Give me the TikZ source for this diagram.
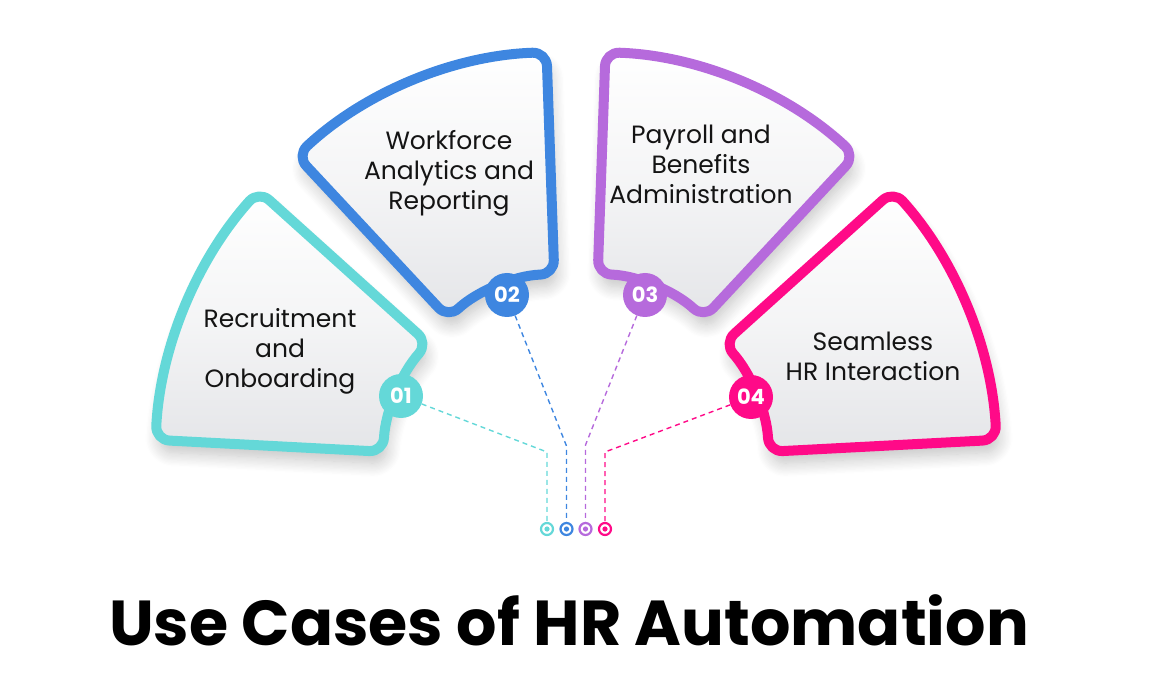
\documentclass[tikz,border=0pt]{standalone}
\usepackage{fontspec}
\setmainfont{Poppins}
\usetikzlibrary{shadows.blur}

\definecolor{cteal}{HTML}{64D8D8}
\definecolor{cblue}{HTML}{3E86E0}
\definecolor{cpurple}{HTML}{B66ADC}
\definecolor{cpink}{HTML}{FF0A88}
\definecolor{cshade}{HTML}{E4E5E8}

\tikzset{
  segpath/.style={line width=10pt, rounded corners=14pt, line join=round,
    top color=white, bottom color=cshade, middle color=white!60!cshade,
    blur shadow={shadow xshift=3pt, shadow yshift=-12pt, shadow blur radius=14pt,
      shadow opacity=24, shadow blur steps=12}},
  segtext/.style={align=center, text=black!92, font=\fontsize{25}{30}\selectfont},
  badge/.style={circle, minimum size=44pt, inner sep=0pt, text=white,
    font=\fontsize{21}{21}\selectfont\bfseries},
  endring/.style={circle, draw=#1, line width=2.2pt, minimum size=12pt, inner sep=0pt, fill=white},
  link/.style={dashed, dash pattern=on 5pt off 4pt, line width=1.4pt}
}

\begin{document}
\begin{tikzpicture}[x=1pt, y=1pt]
    % --- 画布大小 ---
    \useasboundingbox (0,0) rectangle (1153,686);

    % --- 四个扇形 ---
    % 圆心x/圆心y/起始角/终止角/内半径/外半径/颜色
    % 路径从起始边的中点开始, 让每个角都能被圆滑
    \foreach \cx/\cy/\sa/\ea/\ri/\ro/\col in {
        559/225/138/177/176/404/cteal,
        560/248/92/133/164/386/cblue,
        592/248/47/88/164/386/cpurple,
        593/225/3/42/176/404/cpink} {
      \draw[segpath, draw=\col]
        ([shift={(\cx,\cy)}]\sa:{(\ri+\ro)/2}) -- ([shift={(\cx,\cy)}]\sa:\ro)
        arc[start angle=\sa, end angle=\ea, radius=\ro]
        -- ([shift={(\cx,\cy)}]\ea:\ri)
        arc[start angle=\ea, end angle=\sa, radius=\ri] -- cycle;
    }

    % --- 扇形文字 ---
    \node[segtext] (t1) at (280,335) {Recruitment\\and\\Onboarding};
    \node[segtext] (t2) at (449,513) {Workforce\\Analytics and\\Reporting};
    \node[segtext] (t3) at (701,522) {Payroll and\\Benefits\\Administration};
    \node[segtext] (t4) at (873,330) {Seamless\\HR Interaction};

    % --- 编号圆 ---
    \node[badge, fill=cteal]   (b1) at (401,290) {01};
    \node[badge, fill=cblue]   (b2) at (507,391) {02};
    \node[badge, fill=cpurple] (b3) at (645,391) {03};
    \node[badge, fill=cpink]   (b4) at (751,289) {04};

    % --- 底部小圆环 ---
    \node[endring=cteal]   (e1) at (547,157) {};
    \node[endring=cblue]   (e2) at (566.5,157) {};
    \node[endring=cpurple] (e3) at (585.5,157) {};
    \node[endring=cpink]   (e4) at (605,157) {};
    \foreach \i/\col in {1/cteal, 2/cblue, 3/cpurple, 4/cpink}
      \fill[\col] (e\i.center) circle (2.6);

    % --- 折点 ---
    \coordinate (k1) at (e1 |- 0,234);
    \coordinate (k2) at (e2 |- 0,240);
    \coordinate (k3) at (e3 |- 0,241);
    \coordinate (k4) at (e4 |- 0,234);

    % --- 虚线连接 ---
    \draw[link, cteal]   (b1) -- (k1) -- (e1);
    \draw[link, cblue]   (b2) -- (k2) -- (e2);
    \draw[link, cpurple] (b3) -- (k3) -- (e3);
    \draw[link, cpink]   (b4) -- (k4) -- (e4);

    % --- 标题 ---
    \node[anchor=base, font=\fontsize{63.5}{64}\selectfont\bfseries] (title) at (569,41)
      {Use Cases of HR Automation};
\end{tikzpicture}
\end{document}
